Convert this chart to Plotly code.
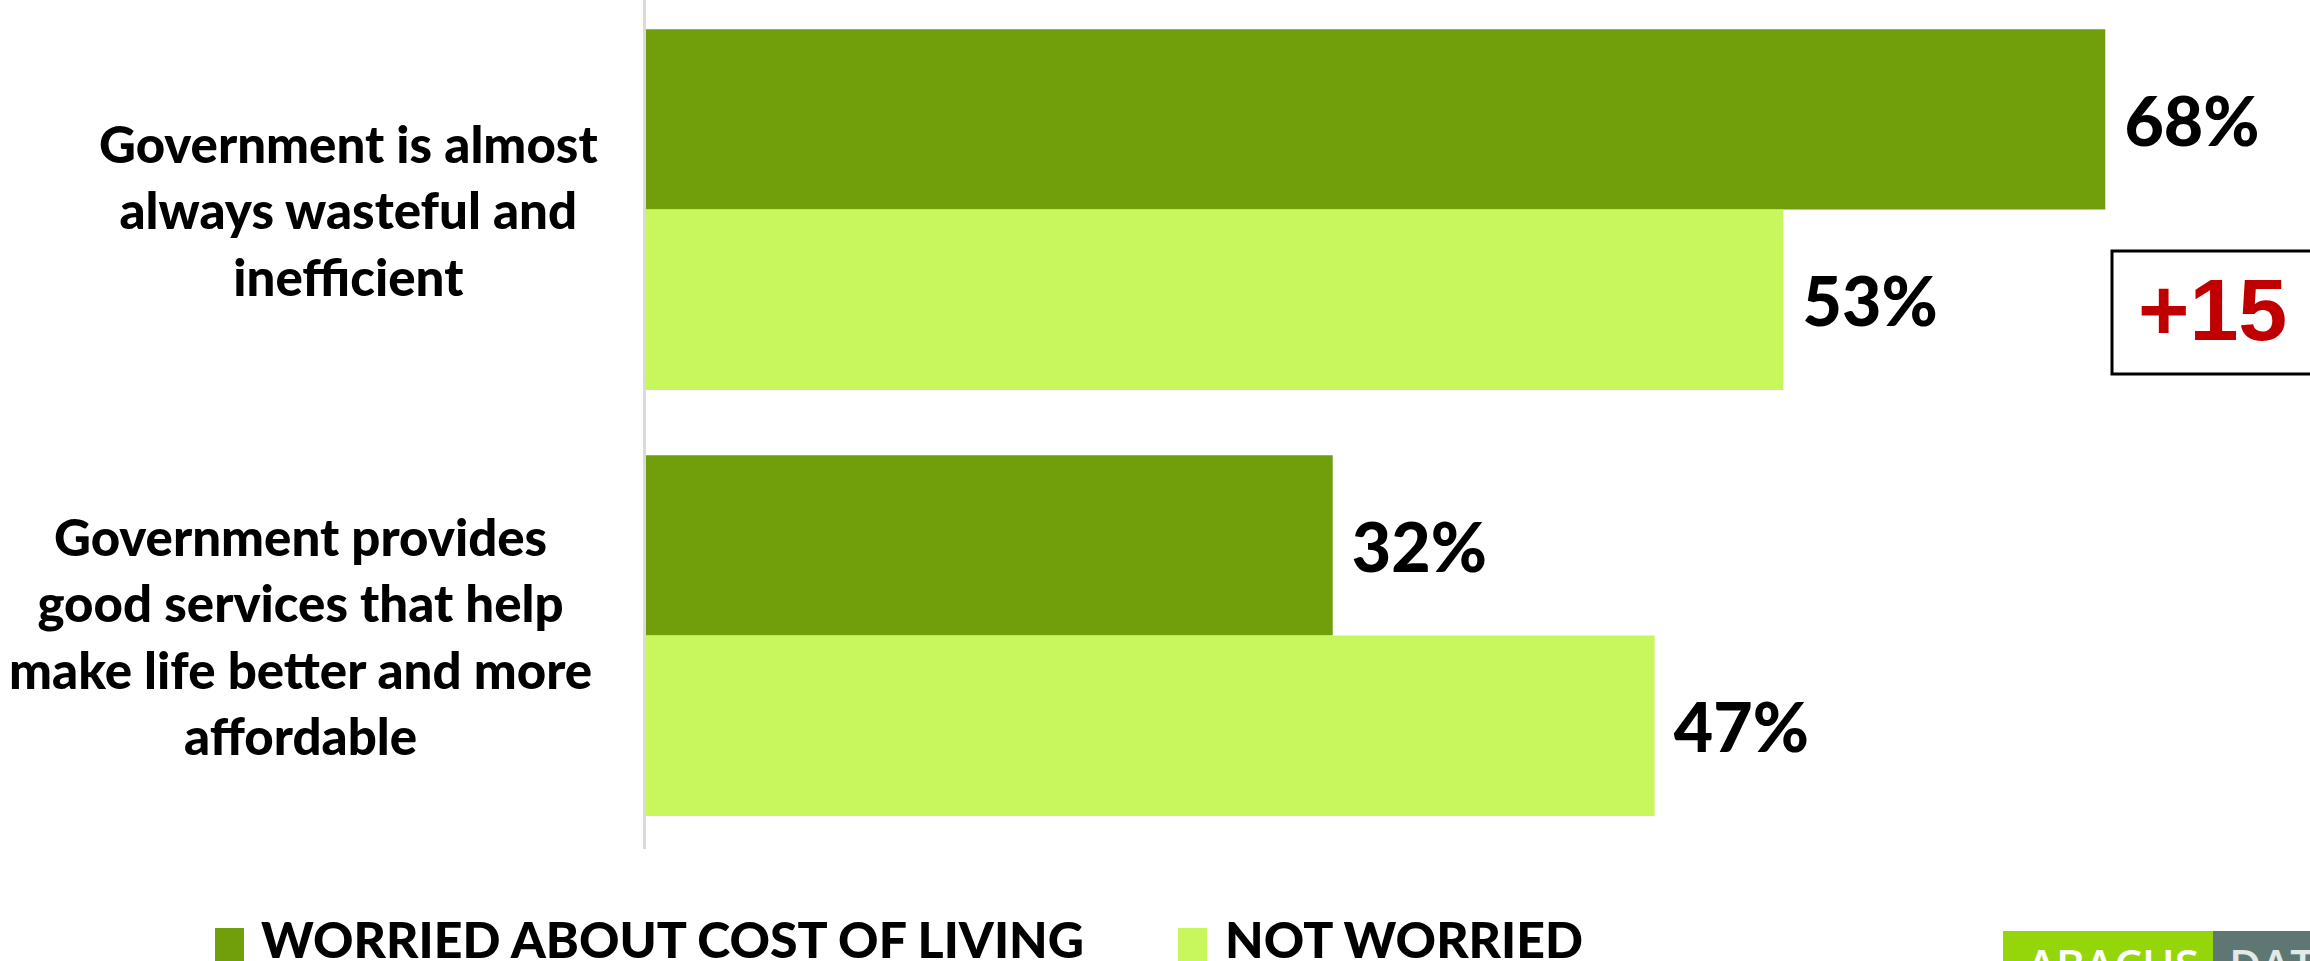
import plotly.graph_objects as go

# ---------------- data ----------------
categories = [
    "Government is almost<br>always wasteful and<br>inefficient",
    "Government provides<br>good services that help<br>make life better and more<br>affordable",
]
worried = [68, 32]
not_worried = [53, 47]
series_names = ["WORRIED ABOUT COST OF LIVING", "NOT WORRIED"]
series_colors = ["#709F0B", "#C8F65D"]
gap_value = worried[0] - not_worried[0]
logo_words = ["ABACUS", "DATA"]

# ---------------- geometry helpers ----------------
W, H = 2310, 961
PL, PR = 646, 2310      # plot area left / right (px)
PT, PB = 0, 849         # plot area top / bottom (px)
PX_PER_PCT = 21.46


def px_x(px):
    return (px - PL) / (PR - PL)


def px_y(py):
    return (PB - py) / (PB - PT)


label_font = "Lato, 'Open Sans', sans-serif"

fig = go.Figure()
for name, vals, col in zip(series_names, [worried, not_worried], series_colors):
    fig.add_trace(go.Bar(
        y=categories, x=vals, name=name, orientation="h",
        marker=dict(color=col, line=dict(width=0)),
        texttemplate=" %{x}%", textposition="outside",
        textfont=dict(family=label_font, size=68, color="#000000", weight=900),
        constraintext="none", cliponaxis=False, showlegend=False,
    ))

# category labels (centered multi-line text)
label_centers_px = [348, 300]
annotations = []
for cat, cx in zip(categories, label_centers_px):
    annotations.append(dict(
        x=px_x(cx), xref="paper", y=cat, yref="y",
        text=cat, showarrow=False, align="center",
        xanchor="center", yanchor="middle",
        font=dict(family=label_font, size=51, color="#000000", weight=900),
    ))

# custom legend
legend_sq_px = [215, 1178]
legend_txt_px = [259, 1223]
shapes = []
for name, col, sx, tx in zip(series_names, series_colors, legend_sq_px, legend_txt_px):
    shapes.append(dict(type="rect", xref="paper", yref="paper",
                       x0=px_x(sx), x1=px_x(sx + 29), y0=px_y(975), y1=px_y(928),
                       fillcolor=col, line=dict(width=0)))
    annotations.append(dict(
        x=px_x(tx), xref="paper", y=px_y(939), yref="paper",
        text=name, showarrow=False, xanchor="left", yanchor="middle",
        font=dict(family=label_font, size=50, color="#000000", weight=900),
    ))

# difference box
shapes.append(dict(type="rect", xref="paper", yref="paper",
                   x0=px_x(2112), x1=px_x(2330), y0=px_y(374), y1=px_y(251),
                   fillcolor="rgba(0,0,0,0)", line=dict(color="#000000", width=3)))
annotations.append(dict(
    x=px_x(2212), xref="paper", y=px_y(309), yref="paper",
    text=f"+{gap_value}", showarrow=False, xanchor="center", yanchor="middle",
    font=dict(family="'Liberation Sans', Arial, sans-serif", size=88, color="#C00000", weight="bold"),
))

# logo
shapes.append(dict(type="rect", xref="paper", yref="paper",
                   x0=px_x(2003), x1=px_x(2213), y0=px_y(990), y1=px_y(931),
                   fillcolor="#95D60A", line=dict(width=0)))
shapes.append(dict(type="rect", xref="paper", yref="paper",
                   x0=px_x(2213), x1=px_x(2330), y0=px_y(990), y1=px_y(931),
                   fillcolor="#5E7773", line=dict(width=0)))
for word, wx, wcol in zip(logo_words, [2025, 2227], ["#FFFFFF", "#E3E9E8"]):
    annotations.append(dict(
        x=px_x(wx), xref="paper", y=px_y(964), yref="paper",
        text=word, showarrow=False, xanchor="left", yanchor="middle",
        font=dict(family="'Open Sans', sans-serif", size=44, color=wcol, weight=600),
    ))

fig.update_layout(
    width=W, height=H,
    margin=dict(l=PL, r=W - PR, t=PT, b=H - PB, pad=0),
    paper_bgcolor="#FFFFFF", plot_bgcolor="#FFFFFF",
    barmode="group", bargap=0.153, bargroupgap=0,
    xaxis=dict(range=[0, (PR - PL) / PX_PER_PCT], showgrid=False, zeroline=False,
               showticklabels=False, showline=False, fixedrange=True),
    yaxis=dict(type="category", categoryorder="array", categoryarray=categories,
               range=[1.501, -0.492], showgrid=False, zeroline=False,
               showticklabels=False, showline=True, linecolor="#DADADA", linewidth=3,
               ticks="", fixedrange=True),
    shapes=shapes, annotations=annotations, showlegend=False,
)

fig.write_html("out.html", config={"displayModeBar": False},
               post_script="document.body.style.margin='0px';")
